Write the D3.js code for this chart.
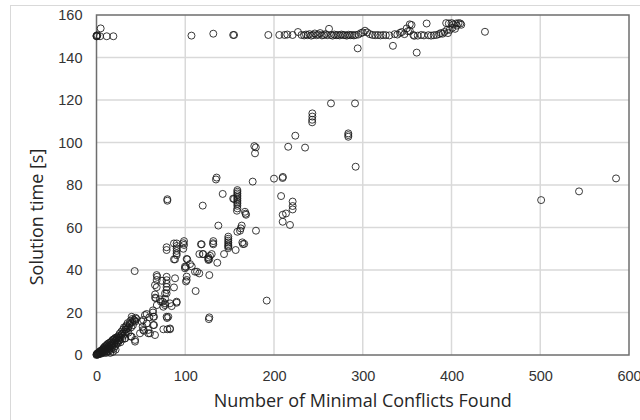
<!DOCTYPE html>
<html>
<head>
<meta charset="utf-8">
<script src="https://cdn.jsdelivr.net/npm/d3@7"></script>
<style>
  html, body { margin: 0; padding: 0; background: #fff; }
  svg { display: block; }
  .tick-label { font-family: "Liberation Sans", Arial, sans-serif; font-size: 14.5px; fill: #333; }
  .axis-title { font-family: "Open Sans", "Noto Sans", sans-serif; font-size: 18px; fill: #262626; }
</style>
</head>
<body>
<div id="chart"></div>
<script>
"use strict";
// Scatter: solution time vs. number of minimal conflicts found.

const xTicks = [0, 100, 200, 300, 400, 500, 600];
const yTicks = [0, 20, 40, 60, 80, 100, 120, 140, 160];

// runs that hit the ~150 s cap
const capped = [
  [0,150],[0,150.3],[0.5,150],[1,150.5],[4.7,153.7],[4,150],[11.5,150],[19,150],
  [107,150.3],[131.6,151.2],[154,150.6],[155,150.6],[193.6,150.6],[206,150.6],[212,150.6],[215,150.8],
  [221,150.6],[227,152],[231,150.6],[234,150.4],[236,150.8],[238,150.5],[240,151],[242,150.3],
  [244,150.6],[246,151.3],[248,150.5],[250,150.8],[252,151.5],[254,150.4],[256,150.6],[258,151],
  [260,150.5],[262,153.5],[264,150.6],[266,150.3],[268,150.8],[270,150.5],[272,150.6],[274,150.4],
  [276,150.8],[278,150.6],[280,150.5],[282,150.3],[284,150.7],[286,150.5],[288,150.6],[290,150.4],
  [292,150.6],[294.3,144.3],[295,150.8],[298,151.5],[300,151.8],[302.5,152.6],[305,151.8],[308,151],
  [311,150.6],[314,150.5],[317,150.6],[320,150.4],[323,150.6],[326,150.5],[330,150.4],[334,145.5],
  [336,151],[339,150.8],[342,151.6],[344,152],[347,151],[349.5,153.7],[351,152.4],[353,155.6],
  [353,152.5],[355,155.3],[357,150.6],[358,150.2],[360.8,142.3],[362,150.3],[366,150.6],[369,150.4],
  [372,156],[374,150.5],[377,150.3],[380,150.5],[383,150.6],[386,151],[388,151.5],[390,151.2],
  [392,152],[394,156.2],[395,153],[396,151.5],[397,156],[398,153],[400,156.2],[401,154],
  [402,155.6],[404,153.5],[405,156],[406,155],[408,156.2],[410,156],[411,155.4],[437.7,152.1]
];

// solved runs, low conflict counts
const lowRuns = [
  [0,0],[0,0.3],[0.5,0.5],[1,0.2],[1,0.8],[1.5,0.4],[2,1],[2,0.3],[2.5,0.7],[3,1.2],[3,0.5],
  [3.5,1.5],[4,0.8],[4,1.8],[4.5,1.2],[5,2],[5,0.6],[5.5,1.5],[6,2.3],[6,1],[6.5,1.8],[7,2.5],
  [7,1.2],[7.5,3],[8,2],[8,3.3],[8.5,1],[9,2.6],[9,3.8],[9.5,1.6],[10,3],[10,4.2],[10.5,2],
  [11,3.5],[11,1],[11.5,4.5],[12,2.8],[12,5],[12.5,1.8],[13,4],[13,3],[13.5,5.5],[14,3.5],
  [14,2],[14.5,4.6],[15,5.8],[15,3],[15.5,1],[16,4.2],[16,6],[16.5,2.5],[17,5],[17,6.5],
  [17.5,3.5],[18,7],[18,4.5],[18.5,1.5],[19,6],[19,7.3],[19.5,3],[20,5.5],[20,7.5],[20.5,4],
  [21,6.5],[21,8],[21.5,2.5],[22,7],[22,5],[22.5,8.3],[23,6],[23,7.8],[24,8.5],[24,5.5],
  [24.5,7],[25,9],[25,6.5],[25.5,8],[26,7],[26,10],[27,8.5],[27,6],[28,9.5],[28,11],[29,7.5],
  [29,10],[30,12],[30,9],[31,11],[31,13],[32,10],[32,7.8],[32.1,7.8],[33,12],[33,13.3],[33.2,12.1],
  [34,11],[34,14],[35,12.5],[35,15],[36,13],[36,10.5],[37,14.1],[37.7,14.9],[38,16],[38.5,8.7],
  [39,13],[39.7,18],[39.7,8.6],[40,15.5],[40.5,17],[41,14],[42,16.5],[43,16.3],[43.4,15.7],
  [43.4,7.1],[43.4,6.3],[43,39.5],[44,17.5],[45,17]
];

// solved runs, medium conflict counts
const midRuns = [
  [49,10.2],[50.9,15.7],[52,13.3],[52.6,11.8],[52.7,16.5],[53.5,11.4],[54.6,18.8],[56.5,19.3],
  [56.6,14.9],[58.4,10.2],[58.4,11.8],[59.5,17.7],[60.3,10.2],[63.6,20],[63.6,21],[64,14.1],
  [64,18],[64.8,18],[64.8,14.1],[65.9,9.4],[65.9,32.9],[66,27],[66,28.5],[67,26.7],[67.8,35.3],
  [67.8,37.6],[68.4,36.8],[67.8,31.9],[68,23.5],[71.5,26.2],[72.6,25.1],[73.8,34.9],[74.6,25.1],
  [75.3,22.7],[75.3,12.1],[77.2,23.5],[77.2,29],[77.2,26.5],[77.2,24.3],[79,36.8],[79,35.2],
  [79,33.6],[79,32],[79,30.6],[79,29],[79,18],[79.5,17.4],[80.9,18],[79.8,12.1],[82.8,12.1],
  [82.8,12.5],[82.8,24.3],[84.7,23],[87.3,31.8],[88.5,36.1],[90.3,25.1],[90.3,24.6],[79,50.7],
  [79,49.4],[79.8,73.3],[79.8,72.6],[87.3,52.5],[88.5,45],[87.3,45],[90.3,52.5],[90.3,51.3],
  [90.3,50.2],[90.3,49],[90.3,47.8],[90.3,47],
  [97.8,52.6],[97.8,50],[98.6,53.6],[98.6,51.8],[99.7,41.6],[99.7,40.8],[100.8,41.4],[101.6,45.2],
  [101.6,36.9],[101.6,35.3],[100.8,34.6],[102.3,45],[105.4,42.8],[107.3,41.7],[111,39.2],[111.7,30.1],
  [113.3,39.2],[115.8,38.4],[115.9,47.5],[117.7,52.1],[118.5,52.1],[119.7,47.5],[120.3,47.5],
  [119.7,70.3],[126,46],[126,45.3],[126,44.7],[127,45],[127.1,37.6],[127.1,17.7],[126.6,16.9],
  [127.9,46.7],[129.8,47.5],[131.3,52.6],[131.6,53.6],[131.6,52.1],[134.6,82.6],[135.3,83.5],
  [136.1,43.4],[137.3,60.9],[142.2,75.8],[143.7,47.5],[148.5,55.7],[148.5,54.7],[148.5,53.8],
  [148.5,53],[148.5,52.2],[148.5,51.5],[148.5,51],[148.5,50.3],[154,73.6],[155,73.4],[156.8,49.4],
  [158.7,77.6],[158.7,76.8],[158.7,76],[158.7,75.2],[158.7,74.4],[158.7,73.6],[158.7,72.8],
  [158.7,72],[158.7,71.2],[158.7,70.2],[158.7,69],[158.2,67.9],[158.7,58],[161.7,58.5],[162.5,59.6],
  [163.6,60.9],[164.3,53],[165,52.2],[166.5,52.3],[167.3,67.4],[168,66.5],[168.5,66],[176,81.6],
  [177.8,98.3],[179.5,97.7],[178.6,94.9],[179.7,58.5]
];

// solved runs, high conflict counts
const highRuns = [
  [191.8,25.6],[200,83],[208,74.8],[209.7,83.3],[210,83.8],[209.8,66],[213.5,66.6],[209.8,62.7],
  [218,61.2],[216,98],[221,72.2],[221,70.1],[221,68.5],[224,103.2],[235,97.6],[243.2,113.7],
  [243.2,112.2],[243,110.7],[243,109.5],[264.2,118.4],[291.3,118.4],[283.7,104.3],[283.7,103.5],
  [283.7,102.7],[292,88.6],[501,72.9],[543.7,77],[585.4,83.1]
];

const W = 640, H = 420;
const plot = { left: 96.5, right: 629, top: 15, bottom: 355 };

const svg = d3.select('#chart').append('svg').attr('width', W).attr('height', H);

// outer chart frame (runs off the bottom/right like the source image)
svg.append('rect').attr('x', 10.5).attr('y', 5.5).attr('width', W).attr('height', H)
  .attr('fill', 'none').attr('stroke', '#d9d9d9').attr('stroke-width', 1);

const x = d3.scaleLinear().domain([0, 600]).range([plot.left, plot.right]);
const y = d3.scaleLinear().domain([0, 160]).range([plot.bottom, plot.top]);

// gridlines
const grid = svg.append('g');
grid.selectAll('line.gx').data(xTicks.slice(1, -1)).enter().append('line')
  .attr('x1', (d) => x(d)).attr('x2', (d) => x(d)).attr('y1', plot.top).attr('y2', plot.bottom)
  .attr('stroke', '#d9d9d9').attr('stroke-width', 1.5);
grid.selectAll('line.gy').data(yTicks.slice(1, -1)).enter().append('line')
  .attr('y1', (d) => y(d)).attr('y2', (d) => y(d)).attr('x1', plot.left).attr('x2', plot.right)
  .attr('stroke', '#d9d9d9').attr('stroke-width', 1.5);

// plot border
svg.append('rect').attr('x', plot.left).attr('y', plot.top)
  .attr('width', plot.right - plot.left).attr('height', plot.bottom - plot.top)
  .attr('fill', 'none').attr('stroke', '#6e6e6e').attr('stroke-width', 1.5);

// axes via d3 axis generators, then restyle
const xAxis = svg.append('g').attr('transform', 'translate(0,' + plot.bottom + ')')
  .call(d3.axisBottom(x).tickValues(xTicks).tickSize(0).tickPadding(16).tickFormat(d3.format('d')));
const yAxis = svg.append('g').attr('transform', 'translate(' + plot.left + ',0)')
  .call(d3.axisLeft(y).tickValues(yTicks).tickSize(0).tickPadding(14).tickFormat(d3.format('d')));
[xAxis, yAxis].forEach((a) => {
  a.select('.domain').remove();
  a.selectAll('text').attr('class', 'tick-label').attr('font-family', null).attr('font-size', null).attr('fill', null);
});

// points
const pts = capped.concat(lowRuns, midRuns, highRuns);
svg.append('g').selectAll('circle').data(pts).enter().append('circle')
  .attr('cx', (d) => x(d[0])).attr('cy', (d) => y(d[1])).attr('r', 3.5)
  .attr('fill', 'none').attr('stroke', '#1a1a1a').attr('stroke-opacity', 0.85).attr('stroke-width', 1);

// titles
svg.append('text').attr('class', 'axis-title').attr('text-anchor', 'middle')
  .attr('x', (plot.left + plot.right) / 2).attr('y', 407)
  .text('Number of Minimal Conflicts Found');
svg.append('text').attr('class', 'axis-title').attr('text-anchor', 'middle')
  .attr('transform', 'translate(43,217) rotate(-90)')
  .text('Solution time [s]');
</script>
</body>
</html>
